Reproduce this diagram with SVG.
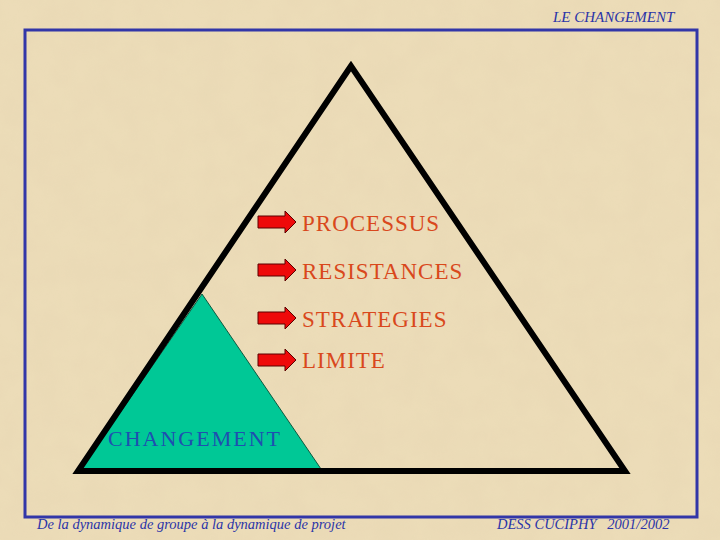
<svg xmlns="http://www.w3.org/2000/svg" width="720" height="540" viewBox="0 0 720 540">
<defs>
<style>
.item{font-family:"Liberation Serif",serif;font-size:23px;fill:#d9481c;letter-spacing:1px}
.hdr{font-family:"Liberation Serif",serif;font-style:italic;fill:#2a34a8}
.arrow{fill:#ee0a0a;stroke:#5a0000;stroke-width:1}
</style>
<filter id="tex" x="0" y="0" width="100%" height="100%">
<feTurbulence type="fractalNoise" baseFrequency="0.035" numOctaves="3" seed="4"/>
<feColorMatrix type="matrix" values="0 0 0 0 0.80  0 0 0 0 0.68  0 0 0 0 0.45  0 0 0 1.2 -0.3"/>
<feComposite in2="SourceGraphic" operator="in"/>
</filter>
<path id="arr" class="arrow" d="M0,-6 H27 V-11 L38,0 L27,11 V6 H0 Z"/>
</defs>
<rect width="720" height="540" fill="#ecdcb8"/>
<rect width="720" height="540" fill="#ecdcb8" filter="url(#tex)" opacity="0.6"/>
<g id="frame">
<rect x="25" y="30" width="672" height="487" fill="none" stroke="#3236a8" stroke-width="3"/>
</g>
<g id="header">
<text class="hdr" x="553" y="22" font-size="15">LE CHANGEMENT</text>
</g>
<g id="changement">
<polygon points="202,294 81,469 321,469" fill="#00c896" stroke="#0a5a40" stroke-width="1"/>
<text x="108" y="446" font-family="Liberation Serif,serif" font-size="22" fill="#1f4fb0" letter-spacing="2">CHANGEMENT</text>
</g>
<g id="pyramid">
<polygon points="351,66 78,471 625,471" fill="none" stroke="#000" stroke-width="6" stroke-linejoin="miter"/>
</g>
<g id="connectors">
<use href="#arr" x="258" y="222"/>
<use href="#arr" x="258" y="270"/>
<use href="#arr" x="258" y="318"/>
<use href="#arr" x="258" y="360"/>
</g>
<g id="processus"><text class="item" x="302" y="231">PROCESSUS</text></g>
<g id="resistances"><text class="item" x="302" y="279">RESISTANCES</text></g>
<g id="strategies"><text class="item" x="302" y="327">STRATEGIES</text></g>
<g id="limite"><text class="item" x="302" y="368">LIMITE</text></g>
<g id="footer">
<text class="hdr" x="37" y="529" font-size="14.5">De la dynamique de groupe à la dynamique de projet</text>
<text class="hdr" x="497" y="529" font-size="14.5" xml:space="preserve">DESS CUCIPHY   2001/2002</text>
</g>
</svg>
